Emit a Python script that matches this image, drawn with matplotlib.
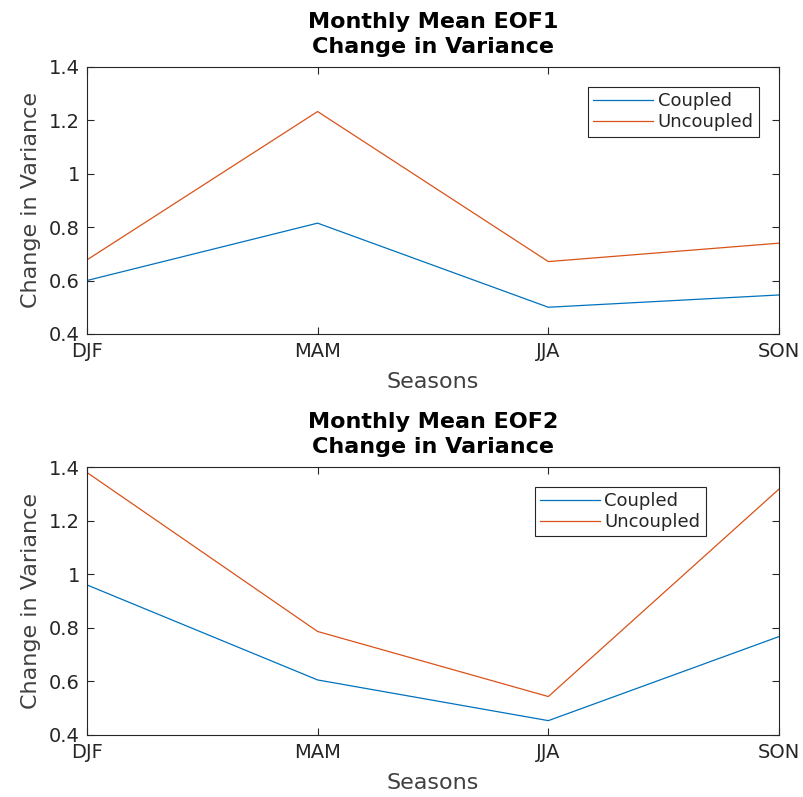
import numpy as np
import matplotlib.pyplot as plt

seasons = ['DJF', 'MAM', 'JJA', 'SON']
eof1_coupled = [0.60, 0.815, 0.50, 0.546]
eof1_uncoupled = [0.677, 1.233, 0.671, 0.74]
eof2_coupled = [0.96, 0.605, 0.453, 0.767]
eof2_uncoupled = [1.38, 0.786, 0.543, 1.318]

c_blue = '#0072BD'
c_red = '#D95319'
txt = '#262626'

plt.rcParams['font.family'] = 'DejaVu Sans'
fig = plt.figure(figsize=(8.04, 7.97), dpi=100)

panels = [
    ([0.108, 0.581, 0.861, 0.335], eof1_coupled, eof1_uncoupled, 'Monthly Mean EOF1\nChange in Variance', (0.971, 0.925)),
    ([0.108, 0.078, 0.861, 0.336], eof2_coupled, eof2_uncoupled, 'Monthly Mean EOF2\nChange in Variance', (0.894, 0.926)),
]

x = np.arange(1, len(seasons) + 1)
for pos, cpl, unc, title, lpos in panels:
    ax = fig.add_axes(pos)
    ax.plot(x, cpl, color=c_blue, lw=0.9, label='Coupled')
    ax.plot(x, unc, color=c_red, lw=0.9, label='Uncoupled')
    ax.set_xlim(1, 4)
    ax.set_ylim(0.4, 1.4)
    ax.set_xticks(x)
    ax.set_xticklabels(seasons)
    ax.set_yticks([0.4, 0.6, 0.8, 1.0, 1.2, 1.4])
    ax.set_yticklabels(['0.4', '0.6', '0.8', '1', '1.2', '1.4'])
    ax.tick_params(direction='in', top=True, right=True, labelsize=14,
                   labelcolor=txt, color=txt, length=5, width=0.8, pad=5)
    ax.tick_params(axis='x', pad=6)
    for s in ax.spines.values():
        s.set_color(txt)
        s.set_linewidth(0.8)
    ax.set_xlabel('Seasons', fontsize=16, color='#404040', labelpad=8)
    ax.set_ylabel('Change in Variance', fontsize=16, color='#404040', labelpad=6)
    ax.set_title(title, fontsize=16, fontweight='bold', color='black', pad=10, linespacing=1.3)
    leg = ax.legend(loc='upper right', bbox_to_anchor=lpos, fancybox=False,
                    edgecolor=txt, framealpha=1, fontsize=13, handlelength=3.3,
                    handletextpad=0.25, borderpad=0.3, labelspacing=0.15,
                    borderaxespad=0)
    leg.get_frame().set_linewidth(0.8)
    for t in leg.get_texts():
        t.set_color(txt)

fig.savefig('out.png', dpi=100, facecolor='white')
